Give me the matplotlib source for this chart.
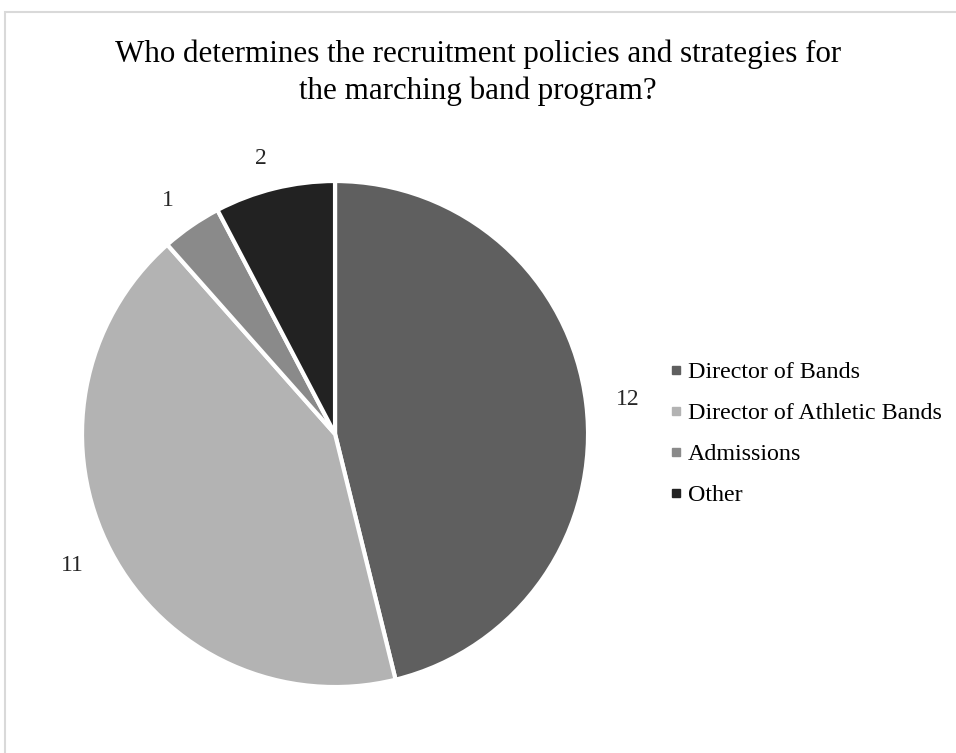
import matplotlib.pyplot as plt
from matplotlib.lines import Line2D
from matplotlib.patches import Rectangle

# survey answers
labels = ['Director of Bands', 'Director of Athletic Bands', 'Admissions', 'Other']
counts = [12, 11, 1, 2]
colors = ['#5f5f5f', '#b3b3b3', '#8a8a8a', '#222222']

plt.rcParams['font.family'] = ['Liberation Serif', 'DejaVu Serif']

fig = plt.figure(figsize=(9.56, 7.53), dpi=100)

# light chart frame
fig.patches.append(Rectangle((5 / 956, -0.1), 1.2, 1.1 - 12 / 753,
                             transform=fig.transFigure, fill=False,
                             edgecolor='#d9d9d9', linewidth=1.5))

ax = fig.add_axes([0.0858, 0.0876, 0.5293, 0.672])
wedges, texts = ax.pie(counts, labels=[str(c) for c in counts], colors=colors,
                       startangle=90, counterclock=False,
                       labeldistance=1.12,
                       wedgeprops=dict(edgecolor='white', linewidth=3),
                       textprops=dict(fontsize=17, color='#262626'))
ax.set_xlim(-1, 1)
ax.set_ylim(-1, 1)
ax.set_aspect('equal')

fig.suptitle('Who determines the recruitment policies and strategies for\n'
             'the marching band program?', y=0.948, fontsize=22.3,
             linespacing=1.35)

handles = [Line2D([], [], marker='s', linestyle='', markersize=6,
                  markerfacecolor=c, markeredgecolor=c) for c in colors]
fig.legend(handles, labels, loc='center left', bbox_to_anchor=(0.674, 0.424),
           frameon=False, fontsize=17.3, labelspacing=0.8, handletextpad=0.1,
           handlelength=0.8)

fig.savefig('out.png', dpi=100)
